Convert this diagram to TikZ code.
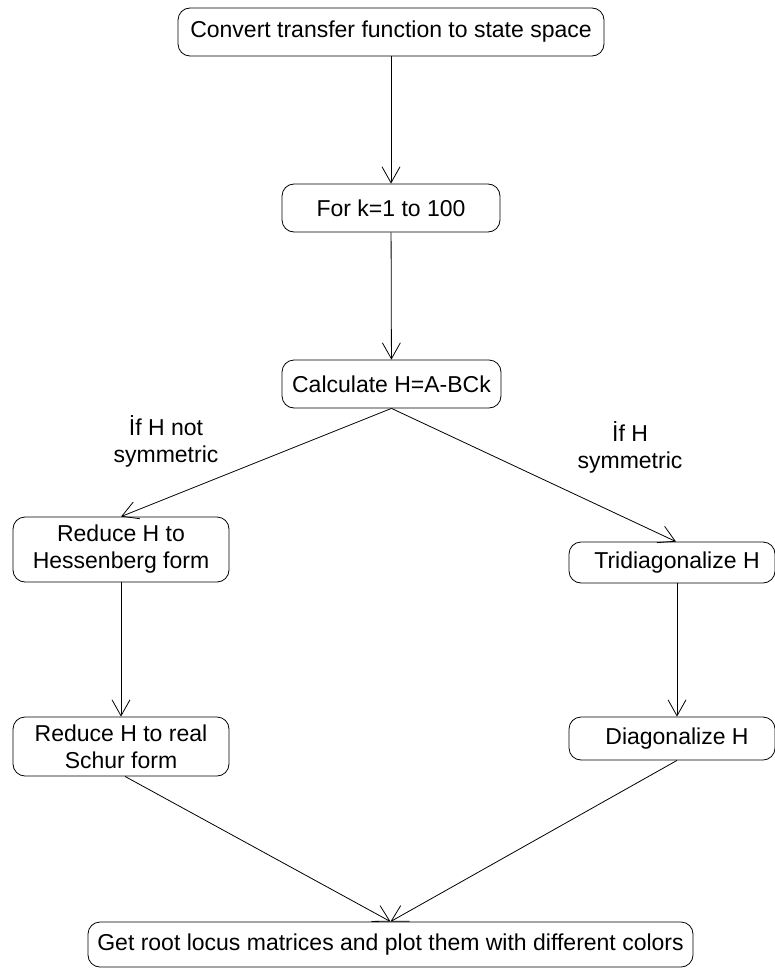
\documentclass[tikz,border=0pt]{standalone}
\usepackage{fontspec}
\setmainfont{Liberation Sans}
\usetikzlibrary{arrows.meta}
\begin{document}
\begin{tikzpicture}[x=1pt,y=-1pt,
  box/.style={draw, line width=0.8pt, rounded corners=12pt, inner sep=0pt,
    align=center, font=\fontsize{23}{27}\selectfont},
  lbl/.style={align=center, inner sep=0pt, font=\fontsize{23}{27}\selectfont},
  flow/.style={line width=0.8pt, -{Straight Barb[length=16pt,width=18pt,line width=0.8pt]}}]
\useasboundingbox (0,0) rectangle (775,971);

% process steps
\node[box, minimum width=426pt, minimum height=48pt] (conv) at (391,32) {Convert transfer function to state space};
\node[box, minimum width=218pt, minimum height=48pt] (loop) at (391,208) {For k=1 to 100};
\node[box, minimum width=219pt, minimum height=48pt] (calc) at (391.5,384) {Calculate H=A-BCk};
\node[box, minimum width=216pt, minimum height=65pt] (hess) at (121,549.5) {Reduce H to\\Hessenberg form};
\node[box, minimum width=206pt, minimum height=41pt] (tri) at (672,562.5) {\hspace*{10pt}Tridiagonalize H};
\node[box, minimum width=216pt, minimum height=59pt] (schur) at (121,746.5) {Reduce H to real\\Schur form};
\node[box, minimum width=206pt, minimum height=43pt] (diag) at (672,738.5) {\hspace*{10pt}Diagonalize H};
\node[box, minimum width=605pt, minimum height=45pt] (plot) at (390.5,944.5) {Get root locus matrices and plot them with different colors};

% branch conditions
\node[lbl] (notsym) at (166,441) {İf H not\\symmetric};
\node[lbl] (sym) at (630,447) {İf H\\symmetric};

% connectors
\draw[flow] (conv) -- (loop);
\draw[flow] (loop) -- (calc);
\draw[flow] (calc.south) -- (hess.north);
\draw[flow] (calc.south) -- ([xshift=4pt]tri.north);
\draw[flow] (hess) -- (schur);
\draw[flow] ([xshift=5pt]tri.south) -- ([xshift=5pt]diag.north);
\draw[flow] ([xshift=4pt]schur.south) -- (plot.north);
\draw[flow] ([xshift=5pt]diag.south) -- (plot.north);
\end{tikzpicture}
\end{document}
